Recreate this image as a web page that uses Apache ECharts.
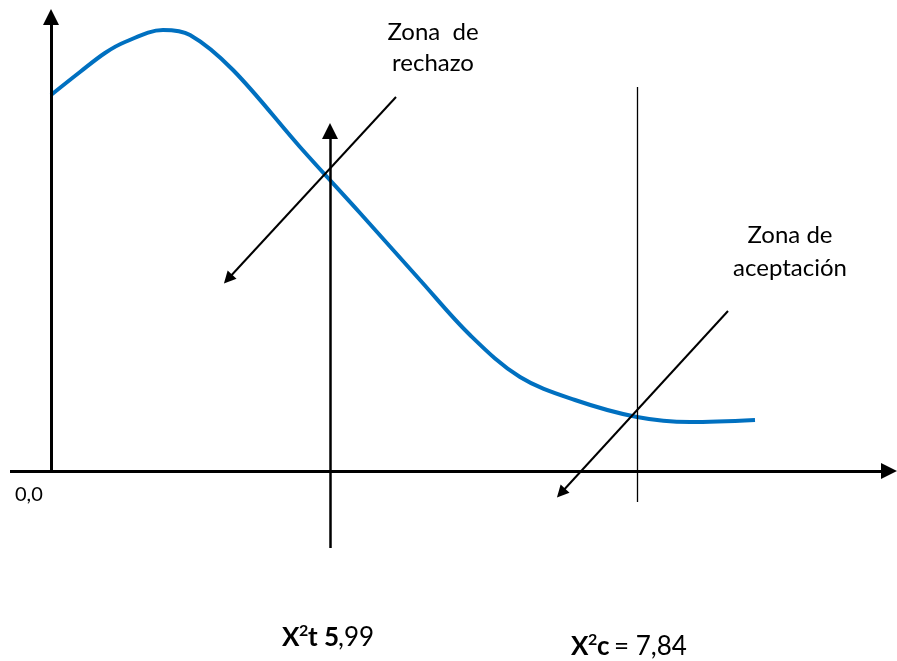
<!DOCTYPE html>
<html>
<head>
<meta charset="utf-8">
<script src="https://cdn.jsdelivr.net/npm/echarts@6/dist/echarts.min.js"></script>
<style>
  html, body { margin: 0; padding: 0; background: #fff; }
  #chart { width: 897px; height: 661px; }
</style>
</head>
<body>
<div id="chart"></div>
<script>
// curva (unidades: origen en el cruce de los ejes)
var curveX = [0, 29, 54, 74, 112, 139, 182, 249, 309, 369, 419, 469, 524, 586, 639, 704];
var curveY = [376, 399, 418, 429, 441, 436, 401, 324, 258, 191, 136, 94, 71, 54, 49, 51];

// ejes principales [x0, y0, x1, y1]
var mainAxes = [
    [0, 0, 0, 454],
    [-41, 0, 838, 0]
];
// eje del valor critico X2t
var criticalAxis = [[279, -77, 279, 340]];
// linea del valor X2c
var calcLine = [[586, 384, 586, -31]];
// flechas diagonales (zona de rechazo / aceptacion)
var zoneArrows = [
    [345, 374, 177, 192],
    [677, 160, 510, -22]
];

var FONT = 'Lato, "Open Sans", sans-serif';

function toLines(arr) {
    return arr.map(function (s) {
        return {coords: [[s[0], s[1]], [s[2], s[3]]]};
    });
}

function txt(x, y, text, font, align) {
    return {
        type: 'text',
        style: {x: x, y: y, text: text, font: font, fill: '#000', textAlign: align || 'left', textVerticalAlign: 'middle'}
    };
}

var myChart = echarts.init(document.getElementById('chart'));

var option = {
    animation: false,
    backgroundColor: '#fff',
    grid: {left: 0, right: 0, top: 0, bottom: 0, containLabel: false},
    xAxis: {
        type: 'value', min: -51, max: 846,
        axisLine: {show: false}, axisTick: {show: false},
        axisLabel: {show: false}, splitLine: {show: false}
    },
    yAxis: {
        type: 'value', min: -190, max: 471,
        axisLine: {show: false}, axisTick: {show: false},
        axisLabel: {show: false}, splitLine: {show: false}
    },
    series: [
        {
            type: 'line',
            smooth: 0.35,
            symbol: 'none',
            lineStyle: {color: '#0070C0', width: 4},
            data: curveX.map(function (x, i) { return [x, curveY[i]]; }),
            z: 3
        },
        {
            type: 'lines',
            coordinateSystem: 'cartesian2d',
            symbol: ['none', 'triangle'],
            symbolSize: [16, 16],
            lineStyle: {color: '#000', width: 3, opacity: 1, curveness: 0},
            data: toLines(mainAxes),
            z: 4
        },
        {
            type: 'lines',
            coordinateSystem: 'cartesian2d',
            symbol: ['none', 'triangle'],
            symbolSize: [15, 16],
            lineStyle: {color: '#000', width: 2.5, opacity: 1},
            data: toLines(criticalAxis),
            z: 4
        },
        {
            type: 'lines',
            coordinateSystem: 'cartesian2d',
            symbol: ['none', 'none'],
            lineStyle: {color: '#000', width: 1.3, opacity: 1},
            data: toLines(calcLine),
            z: 4
        },
        {
            type: 'lines',
            coordinateSystem: 'cartesian2d',
            symbol: ['none', 'triangle'],
            symbolSize: [11, 12],
            lineStyle: {color: '#000', width: 2, opacity: 1},
            data: toLines(zoneArrows),
            z: 4
        }
    ],
    graphic: [
        txt(433, 32, 'Zona  de', '24px ' + FONT, 'center'),
        txt(433, 63, 'rechazo', '24px ' + FONT, 'center'),
        txt(790, 235, 'Zona de', '24px ' + FONT, 'center'),
        txt(790, 268, 'aceptación', '24px ' + FONT, 'center'),
        txt(15, 495, '0,0', '20px ' + FONT),
        // X2t 5,99
        txt(282, 638, 'X', 'bold 26px ' + FONT),
        txt(299, 631, '2', 'bold 16px ' + FONT),
        txt(308, 638, 't', 'bold 26px ' + FONT),
        txt(324, 638, '5', 'bold 26px ' + FONT),
        txt(338, 638, ',99', '26px ' + FONT),
        // X2c = 7,84
        txt(571, 647, 'X', 'bold 26px ' + FONT),
        txt(588, 640, '2', 'bold 16px ' + FONT),
        txt(597, 647, 'c', 'bold 26px ' + FONT),
        txt(614, 647, '= 7,84', '26px ' + FONT)
    ]
};

myChart.setOption(option, true);
</script>
</body>
</html>
